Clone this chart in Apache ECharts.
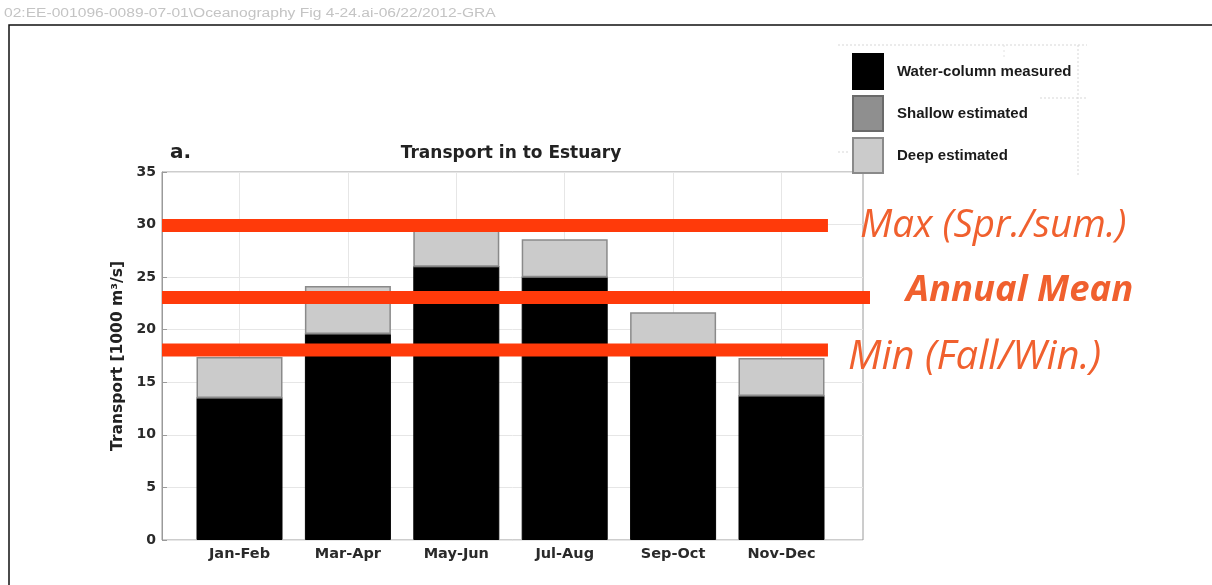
<!DOCTYPE html>
<html><head><meta charset="utf-8">
<script src="https://cdn.jsdelivr.net/npm/echarts@6/dist/echarts.min.js"></script>
<style>html,body{margin:0;padding:0;background:#fff}#c{width:1212px;height:585px}</style>
</head><body><div id="c"></div>
<script>
const categories = ['Jan-Feb','Mar-Apr','May-Jun','Jul-Aug','Sep-Oct','Nov-Dec'];
const measured = [13.5, 19.6, 26.0, 25.0, 18.0, 13.7];
const shallow = [0, 0, 0, 0, 0, 0];
const deep = [3.9, 4.55, 3.45, 3.6, 3.65, 3.6];
const yTicks = [0, 5, 10, 15, 20, 25, 30, 35];
const refValues = [29.9, 23.07, 18.07];
const refNames = ['Max (Spr./sum.)', 'Annual Mean', 'Min (Fall/Win.)'];

const chart = echarts.init(document.getElementById('c'));
const RED = '#ff3a0a';
const TXT = '#f0602e';
const FONT = '"DejaVu Sans", "Liberation Sans", sans-serif';
const LFONT = '"Liberation Sans", Arial, sans-serif';

const refEnds = [95, 101.1, 95];
const refSeries = refValues.map((v, i) => ({
  type: 'line', xAxisIndex: 1, yAxisIndex: 1, name: refNames[i],
  data: [[0, v], [refEnds[i], v]], symbol: 'none', clip: false, z: 10,
  lineStyle: { color: RED, width: 13, cap: 'butt' }, silent: true
}));

chart.setOption({
  animation: false,
  textStyle: { fontFamily: FONT },
  title: [
    { text: 'Transport in to Estuary', left: 511, top: 145, textAlign: 'center', padding: 0,
      textStyle: { fontSize: 17, fontWeight: 'bold', color: '#222', fontFamily: FONT } },
    { text: 'a.', left: 170, top: 143, padding: 0,
      textStyle: { fontSize: 20, fontWeight: 'bold', color: '#222', fontFamily: FONT } }
  ],
  legend: {
    orient: 'vertical', left: 852, top: 53, padding: 0, itemWidth: 30, itemHeight: 35, itemGap: 5,
    icon: 'rect',
    data: ['Water-column measured', 'Shallow estimated', 'Deep estimated'],
    textStyle: { fontSize: 15, fontWeight: 'bold', color: '#1a1a1a', fontFamily: LFONT, padding: [0,0,0,9] },
    selectedMode: false
  },
  grid: [
    { left: 239.5, right: 430.5, top: 172, bottom: 45 },
    { left: 162, right: 349, top: 172, bottom: 45, show: true, borderColor: '#9a9a9a', borderWidth: 1 }
  ],
  xAxis: [
    { type: 'category', gridIndex: 0, data: categories, boundaryGap: false,
      axisLine: { show: false }, axisTick: { show: false },
      axisLabel: { fontSize: 14.5, fontWeight: 'bold', color: '#2a2a2a', margin: 7, fontFamily: FONT },
      splitLine: { show: true, lineStyle: { color: '#e6e6e6', width: 1 } } },
    { type: 'value', gridIndex: 1, min: 0, max: 100, show: false }
  ],
  yAxis: [
    { type: 'value', gridIndex: 0, min: 0, max: 35, interval: 5, show: false },
    { type: 'value', gridIndex: 1, min: 0, max: 35, interval: 5,
      name: 'Transport [1000 m³/s]', nameLocation: 'middle', nameGap: 36,
      nameTextStyle: { fontSize: 15.5, fontWeight: 'bold', color: '#222', fontFamily: FONT },
      axisLine: { show: true, lineStyle: { color: '#9a9a9a' } },
      axisTick: { show: true, inside: true, length: 5, lineStyle: { color: '#9a9a9a' } },
      axisLabel: { fontSize: 14, fontWeight: 'bold', color: '#2a2a2a', margin: 6, fontFamily: FONT },
      splitLine: { show: true, lineStyle: { color: '#e6e6e6', width: 1 } } }
  ],
  series: [
    { type: 'bar', name: 'Water-column measured', stack: 't', data: measured, barWidth: 86, clip: false,
      itemStyle: { color: '#000', borderColor: '#000', borderWidth: 1 } },
    { type: 'bar', name: 'Shallow estimated', stack: 't', data: shallow, barWidth: 86, clip: false,
      itemStyle: { color: '#8f8f8f', borderColor: '#6a6a6a', borderWidth: 1 } },
    { type: 'bar', name: 'Deep estimated', stack: 't', data: deep, barWidth: 86, clip: false,
      itemStyle: { color: '#cbcbcb', borderColor: '#8a8a8a', borderWidth: 1.5 } },
    ...refSeries
  ],
  graphic: [
    { type: 'text', x: 4, y: 14, scaleX: 1.3, style: { text: '02:EE-001096-0089-07-01\\Oceanography Fig 4-24.ai-06/22/2012-GRA', font: '12px "Liberation Sans", Arial, sans-serif', fill: '#c4c4c4', verticalAlign: 'middle' }, silent: true },
    { type: 'rect', shape: { x: 9, y: 25, width: 1300, height: 700 }, style: { fill: 'none', stroke: '#111', lineWidth: 1.5 }, silent: true },
    { type: 'line', shape: { x1: 838, y1: 45, x2: 1087, y2: 45 }, style: { stroke: '#d8d8d8', lineDash: [2, 2], lineWidth: 1 }, silent: true },
    { type: 'line', shape: { x1: 1040, y1: 98, x2: 1087, y2: 98 }, style: { stroke: '#d8d8d8', lineDash: [2, 2], lineWidth: 1 }, silent: true },
    { type: 'line', shape: { x1: 838, y1: 152, x2: 850, y2: 152 }, style: { stroke: '#d8d8d8', lineDash: [2, 2], lineWidth: 1 }, silent: true },
    { type: 'line', shape: { x1: 1078, y1: 45, x2: 1078, y2: 175 }, style: { stroke: '#d8d8d8', lineDash: [2, 2], lineWidth: 1 }, silent: true },
    { type: 'line', shape: { x1: 1004, y1: 45, x2: 1004, y2: 60 }, style: { stroke: '#e2e2e2', lineDash: [2, 3], lineWidth: 1 }, silent: true },
    { type: 'text', x: 860, y: 226, style: { text: refNames[0], font: 'italic 38.5px "Open Sans", "Noto Sans", sans-serif', fill: TXT, verticalAlign: 'middle' } },
    { type: 'text', x: 906, y: 291, style: { text: refNames[1], font: 'italic bold 36.5px "Open Sans", "Noto Sans", sans-serif', fill: TXT, verticalAlign: 'middle' } },
    { type: 'text', x: 848, y: 358, style: { text: refNames[2], font: 'italic 40px "Open Sans", "Noto Sans", sans-serif', fill: TXT, verticalAlign: 'middle' } }
  ]
});
</script></body></html>
